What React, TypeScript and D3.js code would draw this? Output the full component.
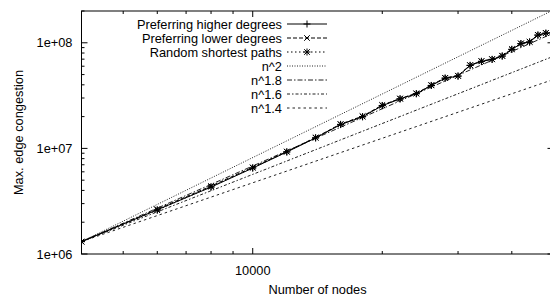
import React from "react";
import * as d3 from "d3";

const NODES = [4000, 6000, 8000, 10000, 12000, 14000, 16000, 18000, 20000, 22000, 24000, 26000, 28000, 30000, 32000, 34000, 36000, 38000, 40000, 42000, 44000, 46000, 48000, 50000];
const HIGHER = [1.31e6, 2.62e6, 4.3e6, 6.51e6, 9.24e6, 1.256e7, 1.68e7, 1.99e7, 2.54e7, 2.94e7, 3.29e7, 3.94e7, 4.62e7, 4.83e7, 6.1e7, 6.66e7, 6.95e7, 7.48e7, 8.65e7, 9.8e7, 1.016e8, 1.18e8, 1.23e8, 1.255e8];
const LOWER = [1.31e6, 2.66e6, 4.4e6, 6.62e6, 9.35e6, 1.27e7, 1.7e7, 2.02e7, 2.57e7, 2.97e7, 3.32e7, 3.98e7, 4.66e7, 4.88e7, 6.15e7, 6.72e7, 7.01e7, 7.55e7, 8.72e7, 9.88e7, 1.025e8, 1.19e8, 1.24e8, 1.265e8];
const RANDOM = [1.31e6, 2.6e6, 4.33e6, 6.55e6, 9.28e6, 1.26e7, 1.69e7, 2.0e7, 2.55e7, 2.95e7, 3.3e7, 3.95e7, 4.63e7, 4.85e7, 6.12e7, 6.68e7, 6.97e7, 7.5e7, 8.68e7, 9.83e7, 1.02e8, 1.185e8, 1.235e8, 1.26e8];

const SERIES_NAMES = ["Preferring higher degrees", "Preferring lower degrees", "Random shortest paths"];
const POWERS = [2, 1.8, 1.6, 1.4];
const POWER_NAMES = ["n^2", "n^1.8", "n^1.6", "n^1.4"];

const Y_TICKS = [1e6, 1e7, 1e8];
const Y_TICK_LABELS = ["1e+06", "1e+07", "1e+08"];
const X_MAJOR = [10000];
const X_MAJOR_LABELS = ["10000"];

const X_DOMAIN = [4000, 50000];
const Y_DOMAIN = [1e6, 2e8];

const W = 550, H = 295;
const L = 81.5, R = 553.5, T = 11, B = 254;
const FONT = "'Liberation Sans', Arial, Helvetica, sans-serif";
const FS = 12.8;

function Marker({ kind, x, y }: { kind: string; x: number; y: number }) {
  const s = 3.5;
  const plus = <path d={`M${x - s},${y}H${x + s}M${x},${y - s}V${y + s}`} />;
  const cross = <path d={`M${x - s * 0.8},${y - s * 0.8}L${x + s * 0.8},${y + s * 0.8}M${x - s * 0.8},${y + s * 0.8}L${x + s * 0.8},${y - s * 0.8}`} />;
  if (kind === "plus") return plus;
  if (kind === "cross") return cross;
  return <g>{plus}{cross}</g>;
}

export default function App() {
  const x = d3.scaleLog().domain(X_DOMAIN).range([L, R]);
  const y = d3.scaleLog().domain(Y_DOMAIN).range([B, T]);

  const seriesData = [HIGHER, LOWER, RANDOM];
  const seriesDash = ["none", "4,2", "1.5,2.5"];
  const seriesMarker = ["plus", "cross", "star"];
  const powerDash = ["1,1.5", "5,2,1.5,2", "3,2,1.5,2", "2.5,3"];

  const line = d3.line<[number, number]>().x((d) => x(d[0])).y((d) => y(d[1]));

  const n0 = NODES[0];
  const v0 = HIGHER[0];

  const yMinor: number[] = [];
  for (let e = 6; e <= 8; e++) for (let m = 2; m <= 9; m++) { const v = m * Math.pow(10, e); if (v <= Y_DOMAIN[1]) yMinor.push(v); }
  const xMinor: number[] = [];
  for (let e = 3; e <= 4; e++) for (let m = 1; m <= 9; m++) { const v = m * Math.pow(10, e); if (v >= X_DOMAIN[0] && v <= X_DOMAIN[1] && !X_MAJOR.includes(v)) xMinor.push(v); }

  const legY0 = 24, legDy = 14;
  const legTextX = 282, legL1 = 287, legL2 = 327;

  return (
    <svg width={W} height={H} style={{ position: "absolute", left: 0, top: 0, background: "#fff" }} fontFamily={FONT} fontSize={FS}>
      <defs>
        <clipPath id="plot"><rect x={L} y={T} width={R - L} height={B - T} /></clipPath>
      </defs>
      <rect x={0} y={0} width={W} height={H} fill="#fff" />
      <g stroke="#000" strokeWidth={1}>
        {Y_TICKS.map((v) => (
          <g key={"ym" + v}>
            <line x1={L} x2={L + 6} y1={y(v)} y2={y(v)} />
            <line x1={R} x2={R - 6} y1={y(v)} y2={y(v)} />
          </g>
        ))}
        {yMinor.map((v) => (
          <g key={"yn" + v}>
            <line x1={L} x2={L + 3} y1={y(v)} y2={y(v)} />
            <line x1={R} x2={R - 3} y1={y(v)} y2={y(v)} />
          </g>
        ))}
        {X_MAJOR.map((v) => (
          <g key={"xm" + v}>
            <line x1={x(v)} x2={x(v)} y1={B} y2={B - 6} />
            <line x1={x(v)} x2={x(v)} y1={T} y2={T + 6} />
          </g>
        ))}
        {xMinor.map((v) => (
          <g key={"xn" + v}>
            <line x1={x(v)} x2={x(v)} y1={B} y2={B - 3} />
            <line x1={x(v)} x2={x(v)} y1={T} y2={T + 3} />
          </g>
        ))}
      </g>
      {Y_TICKS.map((v, i) => (
        <text key={"yl" + v} x={L - 9} y={y(v)} textAnchor="end" dominantBaseline="central">{Y_TICK_LABELS[i]}</text>
      ))}
      {X_MAJOR.map((v, i) => (
        <text key={"xl" + v} x={x(v)} y={B + 16} textAnchor="middle" dominantBaseline="central">{X_MAJOR_LABELS[i]}</text>
      ))}
      <text x={(L + R) / 2} y={289} textAnchor="middle" dominantBaseline="central">Number of nodes</text>
      <text transform={`translate(18,${(T + B) / 2}) rotate(-90)`} textAnchor="middle" dominantBaseline="central">Max. edge congestion</text>

      {SERIES_NAMES.map((name, i) => {
        const ly = legY0 + i * legDy;
        return (
          <g key={"lg" + i}>
            <text x={legTextX} y={ly} textAnchor="end" dominantBaseline="central">{name}</text>
            <line x1={legL1} x2={legL2} y1={ly} y2={ly} stroke="#000" strokeDasharray={seriesDash[i]} />
            <g stroke="#000" strokeWidth={1}><Marker kind={seriesMarker[i]} x={(legL1 + legL2) / 2} y={ly} /></g>
          </g>
        );
      })}
      {POWER_NAMES.map((name, i) => {
        const ly = legY0 + (i + 3) * legDy;
        return (
          <g key={"lp" + i}>
            <text x={legTextX} y={ly} textAnchor="end" dominantBaseline="central">{name}</text>
            <line x1={legL1} x2={legL2} y1={ly} y2={ly} stroke="#222" strokeDasharray={powerDash[i]} />
          </g>
        );
      })}

      <g clipPath="url(#plot)">
        {POWERS.map((k, i) => {
          const pts: [number, number][] = X_DOMAIN.map((n) => [n, v0 * Math.pow(n / n0, k)]);
          return <path key={"p" + k} d={line(pts) || ""} fill="none" stroke="#222" strokeWidth={1} strokeDasharray={powerDash[i]} />;
        })}
        {seriesData.map((vals, si) => {
          const pts: [number, number][] = NODES.map((n, j) => [n, vals[j]]);
          return (
            <g key={"s" + si}>
              <path d={line(pts) || ""} fill="none" stroke="#000" strokeWidth={1} strokeDasharray={seriesDash[si]} />
              <g stroke="#000" strokeWidth={1}>
                {pts.map((p, j) => <Marker key={j} kind={seriesMarker[si]} x={x(p[0])} y={y(p[1])} />)}
              </g>
            </g>
          );
        })}
      </g>

      <rect x={L} y={T} width={R - L} height={B - T} fill="none" stroke="#000" strokeWidth={1} />
    </svg>
  );
}
